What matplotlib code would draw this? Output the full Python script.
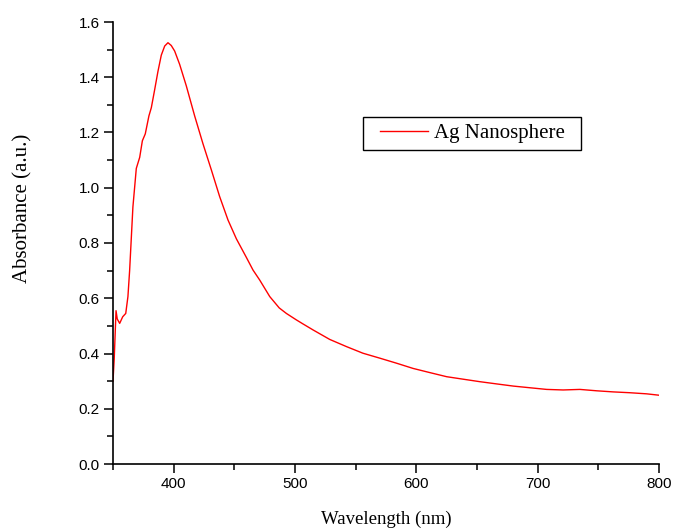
import numpy as np
import matplotlib
matplotlib.use("Agg")
import matplotlib.pyplot as plt
from matplotlib.ticker import MultipleLocator

# absorbance spectrum
wavelength = [350, 351, 352.5, 353.5, 355.5, 358, 360.5, 362.3, 363.7, 366.4,
              369.2, 372, 374.2, 376.6, 379.6, 381.6, 384.3, 387, 389.8, 392.6,
              395.3, 398, 400.8, 404.9, 410.4, 417.3, 424.1, 431.1, 437.9, 444.8,
              451.7, 459.9, 465.4, 470.9, 479.2, 487, 492.9, 501, 506.6, 515,
              528.6, 542.4, 556, 570, 583.6, 597.3, 611, 625, 638.6, 652.3,
              666, 680, 693.6, 707.4, 721, 734.8, 748.6, 762.3, 776, 789.8, 800]
absorbance = [0.30, 0.38, 0.555, 0.525, 0.509, 0.533, 0.545, 0.606, 0.70, 0.93,
              1.07, 1.11, 1.17, 1.195, 1.26, 1.29, 1.354, 1.42, 1.48, 1.513,
              1.525, 1.515, 1.495, 1.447, 1.369, 1.26, 1.16, 1.064, 0.968, 0.883,
              0.815, 0.748, 0.702, 0.666, 0.606, 0.565, 0.545, 0.522, 0.507, 0.485,
              0.451, 0.425, 0.401, 0.383, 0.365, 0.346, 0.331, 0.316, 0.307, 0.298,
              0.29, 0.282, 0.276, 0.27, 0.268, 0.27, 0.265, 0.261, 0.258, 0.254, 0.249]
series_name = "Ag Nanosphere"

serif = ["Liberation Serif", "DejaVu Serif"]
sans = ["Liberation Sans", "DejaVu Sans"]

fig = plt.figure(figsize=(6.76, 5.31), dpi=100)
ax = fig.add_axes([113 / 676, 67 / 531, 546 / 676, 442 / 531])

ax.plot(wavelength, absorbance, color="red", lw=1.0, label=series_name)

ax.set_xlim(350, 800)
ax.set_ylim(0, 1.6)
ax.xaxis.set_major_locator(MultipleLocator(100))
ax.xaxis.set_minor_locator(MultipleLocator(50))
ax.yaxis.set_major_locator(MultipleLocator(0.2))
ax.yaxis.set_minor_locator(MultipleLocator(0.1))
ax.set_xticks([400, 500, 600, 700, 800])

for s in ["top", "right"]:
    ax.spines[s].set_visible(False)
for s in ["left", "bottom"]:
    ax.spines[s].set_linewidth(1.2)

ax.tick_params(which="major", direction="out", length=6.5, width=1.1, labelsize=11, pad=3)
ax.tick_params(which="minor", direction="out", length=4.3, width=1.1)
for lab in ax.get_xticklabels() + ax.get_yticklabels():
    lab.set_family(sans)

ax.set_xlabel("Wavelength (nm)", family=serif, fontsize=13.5)
ax.set_ylabel("Absorbance (a.u.)", family=serif, fontsize=15)
ax.xaxis.set_label_coords(0.5, -0.106)
ax.yaxis.set_label_coords(-0.147, (464 - 208) / 442)

leg = ax.legend(loc="center", bbox_to_anchor=(0.658, 0.748), borderaxespad=0,
                fancybox=False, framealpha=1, edgecolor="black",
                prop={"family": serif, "size": 15}, handlelength=2.3,
                borderpad=0.3, handletextpad=0.3)
frame = leg.get_frame()
frame.set_linewidth(1.0)
# wider side padding than top/bottom, like the reference box
frame.set_boxstyle("square", pad=0.5)
frame.set_mutation_aspect(0.08)

fig.savefig("out.png", dpi=100)
